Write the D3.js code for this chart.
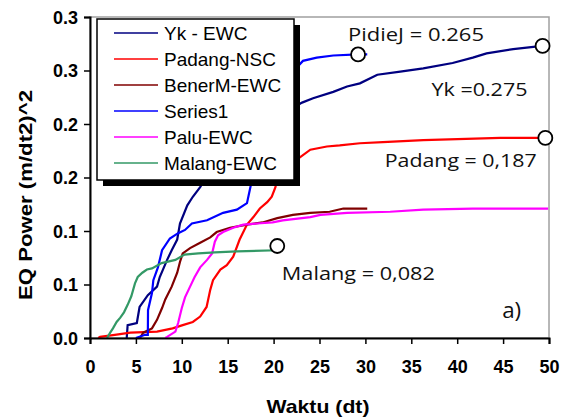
<!DOCTYPE html>
<html>
<head>
<meta charset="utf-8" />
<title>EQ Power</title>
<script src="https://d3js.org/d3.v7.min.js"></script>
<style>
html, body { margin: 0; background: #fff; }
svg { display: block; }
.tick text { font-family: "Liberation Sans", Arial, sans-serif; font-weight: bold; font-size: 18px; fill: #000; }
.note { font-family: "Open Sans", "Noto Sans", sans-serif; font-size: 19px; fill: #111; }
</style>
</head>
<body>
<div id="chart"></div>
<script>
// series as [t, value] pairs
var ykEWC = [[4.0,0],[4.1,0.012],[5.1,0.014],[5.4,0.029],[6.3,0.040],[7.3,0.048],[7.6,0.057],[8.4,0.073],
  [8.9,0.082],[9.5,0.092],[9.8,0.107],[10.6,0.124],[11.2,0.132],[12.0,0.141],[12.5,0.148],[14.2,0.162],
  [16.3,0.176],[18.5,0.192],[20.7,0.208],[23.1,0.220],[24.3,0.224],[26.5,0.230],[28.0,0.235],[29.4,0.238],
  [31.3,0.246],[33.8,0.249],[36.3,0.252],[39.5,0.257],[41.7,0.262],[43.2,0.266],[46.1,0.270],[48.3,0.272],[49.3,0.273]];
var padangNSC = [[0.9,0],[1.1,0.001],[2.7,0.003],[4.4,0.005],[7.3,0.006],[9.0,0.009],[10.1,0.012],[11.2,0.015],
  [12.0,0.020],[12.7,0.029],[13.1,0.045],[13.4,0.054],[14.2,0.064],[14.9,0.068],[15.6,0.076],[16.3,0.092],
  [17.1,0.106],[17.8,0.113],[18.5,0.121],[19.3,0.127],[19.8,0.132],[20.2,0.141],[20.4,0.150],[21.2,0.159],
  [22.9,0.169],[24.0,0.176],[25.8,0.179],[27.2,0.180],[29.4,0.182],[31.9,0.183],[36.3,0.185],[44.7,0.187],[49.3,0.187]];
var benerMEWC = [[5.45,0],[5.8,0.005],[6.75,0.009],[7.3,0.017],[7.85,0.028],[8.2,0.036],[8.9,0.048],[9.5,0.061],
  [9.8,0.071],[10.1,0.079],[10.9,0.084],[12.0,0.089],[13.1,0.094],[13.8,0.099],[15.25,0.103],[17.1,0.106],
  [18.8,0.108],[20.4,0.112],[22.1,0.115],[24.0,0.117],[26.1,0.118],[27.6,0.121],[30.2,0.121]];
var series1 = [[5.0,0],[6.0,0.003],[6.3,0.003],[6.32,0.026],[6.75,0.042],[6.9,0.054],[7.4,0.066],[7.85,0.082],
  [8.7,0.093],[9.6,0.098],[10.35,0.101],[11.1,0.107],[12.75,0.110],[14.5,0.117],[16.0,0.120],[17.1,0.126],
  [17.4,0.138],[17.65,0.148],[18.0,0.166],[18.5,0.194],[19.6,0.222],[21.2,0.241],[23.2,0.259],[24.7,0.262],
  [26.5,0.264],[29.2,0.265],[30.2,0.265]];
var paluEWC = [[8.2,0],[8.4,0.001],[9.3,0.006],[9.6,0.014],[10.0,0.028],[10.35,0.038],[10.9,0.048],[11.4,0.057],
  [12.0,0.066],[12.75,0.073],[13.3,0.079],[13.6,0.090],[13.95,0.096],[14.5,0.099],[15.6,0.103],[16.7,0.106],
  [18.2,0.107],[19.9,0.108],[21.0,0.110],[24.0,0.113],[25.1,0.115],[28.0,0.117],[32.7,0.118],[36.3,0.120],
  [41.7,0.121],[49.9,0.121]];
var malangEWC = [[1.85,0],[2.2,0.005],[2.5,0.009],[2.9,0.015],[3.3,0.019],[3.7,0.024],[4.1,0.031],[4.5,0.039],
  [4.9,0.051],[5.2,0.057],[5.7,0.061],[6.2,0.064],[6.75,0.065],[7.8,0.070],[9.3,0.073],[10.3,0.078],
  [11.8,0.079],[13.6,0.080],[16.0,0.081],[20.4,0.082]];

var seriesNames = ["Yk - EWC", "Padang-NSC", "BenerM-EWC", "Series1", "Palu-EWC", "Malang-EWC"];
var seriesData = [ykEWC, padangNSC, benerMEWC, series1, paluEWC, malangEWC];
var seriesColors = ["#000080", "#ff0000", "#800000", "#0000ff", "#ff00ff", "#339966"];

var xTicks = [0, 5, 10, 15, 20, 25, 30, 35, 40, 45, 50];
var yTicks = [0, 0.05, 0.1, 0.15, 0.2, 0.25, 0.3];
var yTickLabels = ["0.0", "0.1", "0.1", "0.2", "0.2", "0.3", "0.3"];

// end markers and their labels
var markerPts = [[29.2, 0.265], [49.3, 0.273], [49.6, 0.187], [20.4, 0.086]];
var noteText = ["PidieJ = 0.265", "Yk =0.275", "Padang = 0,187", "Malang = 0,082", "a)"];
var notePos = [[28.1, 0.278], [37.2, 0.226], [32.1, 0.160], [20.9, 0.054], [44.9, 0.019]];
var noteLen = [136, 96, 152, 153, 19];

var W = 566, H = 419;
var svg = d3.select("#chart").append("svg").attr("width", W).attr("height", H);

var x = d3.scaleLinear().domain([0, 50]).range([90, 549]);
var y = d3.scaleLinear().domain([0, 0.3]).range([338, 17]);

// plot frame (grey top/right)
svg.append("rect").attr("x", 90).attr("y", 17).attr("width", 459).attr("height", 321)
  .attr("fill", "none").attr("stroke", "#a0a0a0").attr("stroke-width", 1.5);

var line = d3.line().x(function(d){ return x(d[0]); }).y(function(d){ return y(d[1]); });

seriesData.forEach(function(s, i) {
  svg.append("path").datum(s).attr("d", line)
    .attr("fill", "none").attr("stroke", seriesColors[i]).attr("stroke-width", 2.2)
    .attr("stroke-linejoin", "miter");
});

svg.selectAll("circle.mk").data(markerPts).enter().append("circle")
  .attr("class", "mk")
  .attr("cx", function(d){ return x(d[0]); }).attr("cy", function(d){ return y(d[1]); })
  .attr("r", 7).attr("fill", "#fff").attr("stroke", "#000").attr("stroke-width", 1.8);

svg.selectAll("text.note").data(noteText).enter().append("text")
  .attr("class", "note")
  .attr("x", function(d, i){ return x(notePos[i][0]); })
  .attr("y", function(d, i){ return y(notePos[i][1]); })
  .attr("textLength", function(d, i){ return noteLen[i]; })
  .attr("lengthAdjust", "spacingAndGlyphs")
  .style("font-size", function(d, i){ return i == 4 ? "21px" : null; })
  .text(function(d){ return d; });

// axes
var xAxis = svg.append("g").attr("transform", "translate(0,338)")
  .call(d3.axisBottom(x).tickValues(xTicks).tickSize(6).tickPadding(16));
var yAxis = svg.append("g").attr("transform", "translate(90,0)")
  .call(d3.axisLeft(y).tickValues(yTicks).tickSize(6).tickPadding(6)
    .tickFormat(function(d, i){ return yTickLabels[i]; }));
[xAxis, yAxis].forEach(function(g) {
  g.select(".domain").attr("stroke", "#000").attr("stroke-width", 2);
  g.selectAll(".tick line").attr("stroke", "#000").attr("stroke-width", 1.5);
});
yAxis.selectAll(".tick text").attr("dy", "0.36em");

svg.append("text").attr("x", 318).attr("y", 413).attr("text-anchor", "middle")
  .attr("textLength", 103).attr("lengthAdjust", "spacingAndGlyphs")
  .style("font-family", "'Liberation Sans', Arial, sans-serif").style("font-weight", "bold")
  .style("font-size", "19px").text("Waktu (dt)");
svg.append("text").attr("transform", "translate(32,195) rotate(-90)").attr("text-anchor", "middle")
  .attr("textLength", 210).attr("lengthAdjust", "spacingAndGlyphs")
  .style("font-family", "'Liberation Sans', Arial, sans-serif").style("font-weight", "bold")
  .style("font-size", "19px").text("EQ Power (m/dt2)^2");

// legend with drop shadow
var lg = svg.append("g");
lg.append("rect").attr("x", 103).attr("y", 25).attr("width", 197).attr("height", 161).attr("fill", "#000");
lg.append("rect").attr("x", 97).attr("y", 19).attr("width", 197).attr("height", 161)
  .attr("fill", "#fff").attr("stroke", "#000").attr("stroke-width", 1.5);
seriesNames.forEach(function(n, i) {
  var yy = 33 + i * 26;
  lg.append("line").attr("x1", 114).attr("x2", 158).attr("y1", yy).attr("y2", yy)
    .attr("stroke", seriesColors[i]).attr("stroke-width", 1.5);
  lg.append("text").attr("x", 164).attr("y", yy + 7)
    .style("font-family", "'Liberation Sans', Arial, sans-serif").style("font-size", "19px")
    .text(n);
});
</script>
</body>
</html>
